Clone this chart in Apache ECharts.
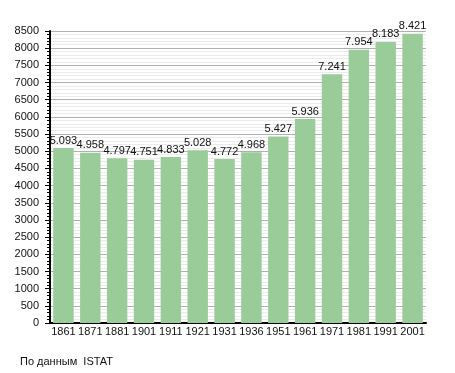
<!DOCTYPE html>
<html><head><meta charset="utf-8">
<script src="https://cdn.jsdelivr.net/npm/echarts@6/dist/echarts.min.js"></script>
<style>html,body{margin:0;padding:0;background:#fff;}#c{width:455px;height:373px;}</style>
</head><body><div id="c"></div>
<script>
const years = ['1861','1871','1881','1901','1911','1921','1931','1936','1951','1961','1971','1981','1991','2001'];
const population = [5093,4958,4797,4751,4833,5028,4772,4968,5427,5936,7241,7954,8183,8421];
const sourceText = 'По данным  ISTAT';
const FONT = '"Liberation Sans", Arial, sans-serif';
const chart = echarts.init(document.getElementById('c'), null, {renderer:'canvas'});
chart.setOption({
  animation: false,
  backgroundColor: '#fff',
  textStyle: {fontFamily: FONT},
  grid: {left: 50, right: 29, top: 31, bottom: 50, containLabel: false},
  graphic: [{type:'text', left: 20, top: 356, style:{text: sourceText, font: '11px ' + FONT, fill:'#111'}}],
  xAxis: {
    type: 'category', data: years,
    axisLine: {lineStyle: {color: '#000', width: 2}},
    axisTick: {show: false},
    axisLabel: {color: '#111', fontSize: 11, margin: 3, fontFamily: FONT, interval: 0},
    splitLine: {show: false}
  },
  yAxis: {
    type: 'value', min: 0, max: 8500, interval: 500,
    axisLine: {show: true, lineStyle: {color: '#000', width: 2}},
    axisTick: {show: true, length: 5, lineStyle: {color: '#000', width: 1}},
    minorTick: {show: true, splitNumber: 5, length: 3, lineStyle: {color: '#000', width: 1}},
    axisLabel: {color: '#111', fontSize: 11, margin: 11, fontFamily: FONT, formatter: v => String(v)},
    splitLine: {show: true, lineStyle: {color: '#b0b0b0', width: 1}},
    minorSplitLine: {show: true, lineStyle: {color: '#ebebeb', width: 1}}
  },
  series: [{
    type: 'bar', data: population, barCategoryGap: '24%',
    itemStyle: {color: '#99cc99'},
    label: {show: true, position: 'top', distance: 2, color: '#111', fontSize: 11, fontFamily: FONT,
      formatter: p => { const s = String(p.value); return s.slice(0, s.length-3) + '.' + s.slice(-3); }}
  }]
});
</script></body></html>
